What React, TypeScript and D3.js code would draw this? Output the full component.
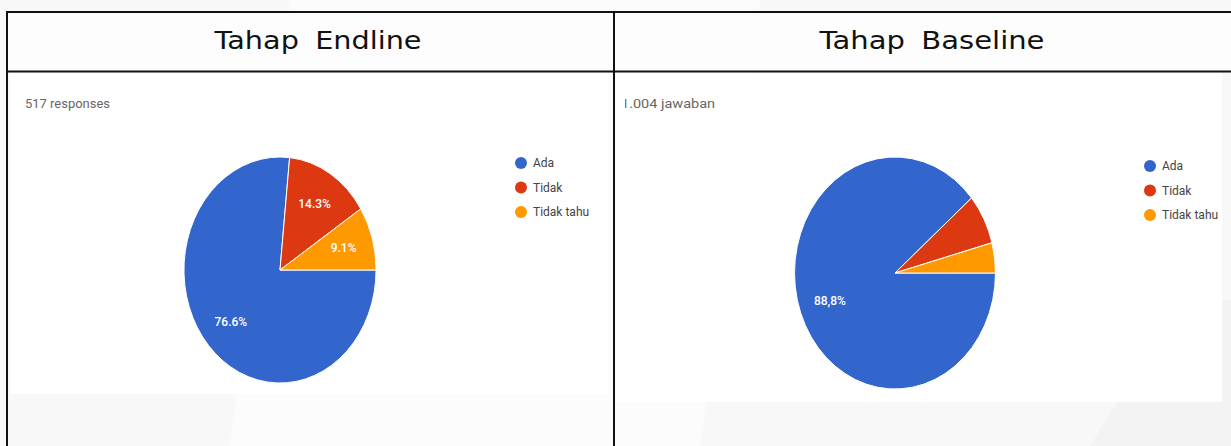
import React from "react";
import * as d3 from "d3";

const categories = ["Ada", "Tidak", "Tidak tahu"];
const colors = ["#3366cc", "#dc3912", "#ff9900"];
const endlineValues = [76.6, 14.3, 9.1];
const endlineLabels = ["76.6%", "14.3%", "9.1%"];
const baselineValues = [88.8, 7.0, 4.2];
const baselineLabels = ["88,8%", "", ""];
const headers = ["Tahap Endline", "Tahap Baseline"];
const counts = ["517 responses", "1.004 jawaban"];

type PieProps = {
  cx: number; cy: number; ry: number; sx: number;
  values: number[]; labels: string[];
};

function Pie({ cx, cy, ry, sx, values, labels }: PieProps) {
  const pie = d3.pie<number>().sort(null).startAngle(Math.PI / 2).endAngle(Math.PI / 2 + 2 * Math.PI);
  const arcs = pie(values);
  const arc = d3.arc<d3.PieArcDatum<number>>().innerRadius(0).outerRadius(ry);
  const labelArc = d3.arc<d3.PieArcDatum<number>>().innerRadius(ry * 0.69).outerRadius(ry * 0.69);
  return (
    <g>
      <g transform={`translate(${cx},${cy}) scale(${sx},1)`}>
        {arcs.map((a, i) => (
          <path key={i} d={arc(a) || ""} fill={colors[i]} stroke="#fff" strokeWidth={1} vectorEffect="non-scaling-stroke" />
        ))}
      </g>
      {arcs.map((a, i) => {
        const [x, y] = labelArc.centroid(a);
        return labels[i] ? (
          <text key={i} x={cx + x * sx} y={cy + y} dy="0.35em" textAnchor="middle" fill="#fff"
            fontFamily="Roboto, Arial, sans-serif" fontSize={12} fontWeight={500}>{labels[i]}</text>
        ) : null;
      })}
    </g>
  );
}

function Legend({ x, y }: { x: number; y: number }) {
  return (
    <g>
      {categories.map((c, i) => (
        <g key={c} transform={`translate(${x},${y + i * 24.5})`}>
          <circle cx={0} cy={0} r={6} fill={colors[i]} />
          <text x={12} y={0} dy="0.35em" fontFamily="Roboto, Arial, sans-serif" fontSize={12} fill="#444">{c}</text>
        </g>
      ))}
    </g>
  );
}

export default function App() {
  const W = 1231, H = 446;
  return (
    <svg width={W} height={H} style={{ position: "absolute", left: 0, top: 0, display: "block" }}>
      <defs>
        <clipPath id="rightPanel"><rect x={625} y={73} width={598} height={330} /></clipPath>
      </defs>
      <rect x={0} y={0} width={W} height={H} fill="#f8f8f8" />
      <polygon points="230,446 290,0 760,0 700,446" fill="#fcfcfc" />
      <polygon points="1090,446 1180,300 1231,300 1231,446" fill="#f3f3f3" />
      <rect x={7} y={12} width={1230} height={60} fill="#fdfdfd" />
      <rect x={10} y={73} width={598} height={321} fill="#fff" />
      <rect x={616} y={73} width={606} height={329} fill="#fff" />
      <g stroke="#111" strokeWidth={2}>
        <line x1={7} y1={12} x2={1231} y2={12} />
        <line x1={7} y1={71.5} x2={1231} y2={71.5} />
        <line x1={7} y1={11} x2={7} y2={446} />
        <line x1={614} y1={11} x2={614} y2={446} />
      </g>
      <text x={318} y={49} textAnchor="middle" fontFamily="DejaVu Sans, sans-serif" fontSize={24}
        fill="#111" textLength={207} lengthAdjust="spacingAndGlyphs" wordSpacing={6}>{headers[0]}</text>
      <text x={932} y={49} textAnchor="middle" fontFamily="DejaVu Sans, sans-serif" fontSize={24}
        fill="#111" textLength={225} lengthAdjust="spacingAndGlyphs" wordSpacing={6}>{headers[1]}</text>

      <text x={25} y={108} fontFamily="Roboto, Arial, sans-serif" fontSize={12} fill="#666"
        textLength={85} lengthAdjust="spacingAndGlyphs">{counts[0]}</text>
      <g clipPath="url(#rightPanel)">
        <text x={621} y={108} fontFamily="Roboto, Arial, sans-serif" fontSize={12} fill="#666"
          textLength={94} lengthAdjust="spacingAndGlyphs">{counts[1]}</text>
        <Pie cx={895} cy={273} ry={116} sx={0.866} values={baselineValues} labels={baselineLabels} />
        <Legend x={1150} y={166} />
      </g>
      <Pie cx={280} cy={270} ry={113} sx={0.85} values={endlineValues} labels={endlineLabels} />
      <Legend x={521} y={163} />
    </svg>
  );
}
